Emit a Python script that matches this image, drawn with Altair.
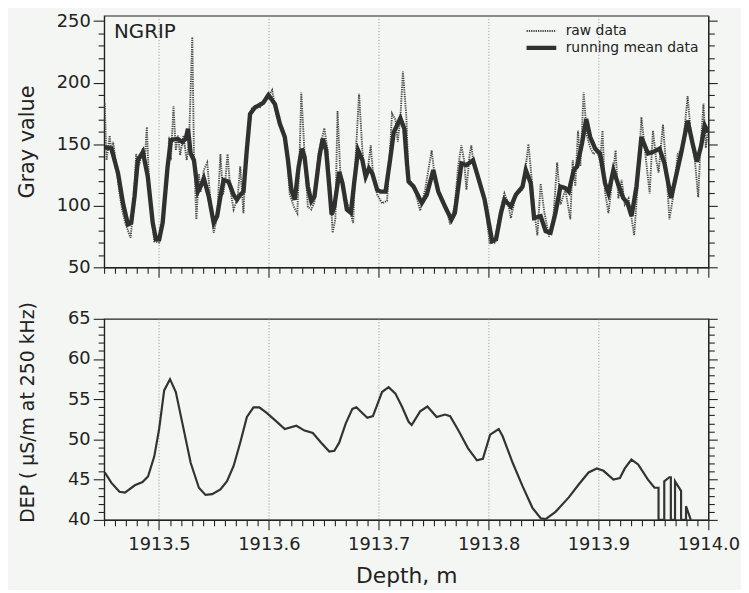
import altair as alt
import pandas as pd

FONT = "DejaVu Sans"

# ---------------- data ----------------
site_label = ["NGRIP"]
series_names = ["raw data", "running mean data"]

mean_depth = [1913.4506, 1913.4567, 1913.4627, 1913.4672, 1913.4717, 1913.4747, 1913.4777, 1913.4807,
              1913.4853, 1913.4898, 1913.4943, 1913.4972, 1913.5002, 1913.5033, 1913.5078, 1913.5108,
              1913.5168, 1913.5213, 1913.5243, 1913.5264, 1913.5288, 1913.5318, 1913.5354, 1913.5378,
              1913.5408, 1913.5453, 1913.5498, 1913.5529, 1913.5559, 1913.5588, 1913.5633, 1913.5679,
              1913.5709, 1913.5739, 1913.5769, 1913.5799, 1913.5829, 1913.5874, 1913.5919, 1913.5950,
              1913.5996, 1913.6055, 1913.6100, 1913.6145, 1913.6174, 1913.6205, 1913.6235, 1913.6271,
              1913.6301, 1913.6325, 1913.6355, 1913.6386, 1913.6415, 1913.6460, 1913.6490, 1913.6521,
              1913.6550, 1913.6571, 1913.6596, 1913.6641, 1913.6670, 1913.6710, 1913.6746, 1913.6776,
              1913.6812, 1913.6851, 1913.6881, 1913.6911, 1913.6941, 1913.6986, 1913.7017, 1913.7062,
              1913.7107, 1913.7137, 1913.7197, 1913.7233, 1913.7257, 1913.7272, 1913.7317, 1913.7392,
              1913.7437, 1913.7497, 1913.7542, 1913.7603, 1913.7662, 1913.7693, 1913.7753, 1913.7798,
              1913.7858, 1913.7903, 1913.7964, 1913.8032, 1913.8068, 1913.8113, 1913.8144, 1913.8203,
              1913.8248, 1913.8309, 1913.8339, 1913.8384, 1913.8414, 1913.8474, 1913.8519, 1913.8564,
              1913.8609, 1913.8654, 1913.8699, 1913.8730, 1913.8775, 1913.8805, 1913.8850, 1913.8889,
              1913.8925, 1913.8970, 1913.9015, 1913.9060, 1913.9091, 1913.9136, 1913.9181, 1913.9226,
              1913.9265, 1913.9301, 1913.9346, 1913.9391, 1913.9451, 1913.9496, 1913.9556, 1913.9601,
              1913.9661, 1913.9698, 1913.9752, 1913.9812, 1913.9857, 1913.9896, 1913.9932, 1913.9968,
              1913.9998]
mean_gray = [147.7, 146.4, 126.4, 102.2, 84.8, 86.1, 107.5, 137.0,
             143.7, 123.6, 86.1, 72.8, 72.8, 86.1, 131.7, 153.2,
             154.5, 151.7, 154.5, 162.6, 142.4, 137.0, 111.5, 115.6,
             122.2, 107.5, 86.1, 91.5, 107.5, 120.9, 119.6, 108.9,
             104.9, 108.9, 111.5, 145.1, 174.6, 179.9, 182.1, 183.8,
             190.0, 182.6, 166.6, 155.8, 137.0, 112.9, 104.9, 131.7,
             146.4, 139.7, 115.6, 103.6, 107.5, 139.7, 154.5, 145.1,
             115.6, 92.8, 99.4, 127.6, 118.3, 96.9, 94.2, 118.3,
             145.1, 137.0, 123.6, 130.3, 126.4, 112.9, 111.5, 111.5,
             139.7, 159.8, 171.1, 162.6, 134.4, 119.6, 115.6, 102.2,
             108.9, 129.0, 111.5, 99.4, 88.7, 94.2, 134.4, 133.0,
             137.0, 123.6, 104.9, 71.3, 72.8, 94.2, 104.9, 99.4,
             108.9, 115.6, 129.0, 118.3, 90.1, 91.5, 79.4, 78.1,
             94.2, 115.6, 114.3, 111.5, 129.0, 131.7, 150.5, 170.5,
             155.8, 146.4, 142.4, 118.3, 110.2, 129.0, 117.0, 106.2,
             102.2, 91.5, 115.6, 155.8, 142.4, 143.7, 146.4, 134.4,
             106.2, 120.9, 142.4, 169.2, 150.5, 135.8, 147.7, 165.1,
             159.8]

raw_depth = [1913.4506, 1913.4522, 1913.4551, 1913.4567, 1913.4582, 1913.4612, 1913.4639, 1913.4666,
             1913.4693, 1913.4741, 1913.4765, 1913.4792, 1913.4819, 1913.4853, 1913.4873, 1913.4889,
             1913.4909, 1913.4927, 1913.4957, 1913.5002, 1913.5045, 1913.5078, 1913.5092, 1913.5108,
             1913.5132, 1913.5153, 1913.5174, 1913.5192, 1913.5222, 1913.5252, 1913.5273, 1913.5303,
             1913.5318, 1913.5340, 1913.5363, 1913.5378, 1913.5408, 1913.5439, 1913.5462, 1913.5498,
             1913.5529, 1913.5559, 1913.5583, 1913.5604, 1913.5624, 1913.5649, 1913.5679, 1913.5715,
             1913.5739, 1913.5769, 1913.5784, 1913.5814, 1913.5844, 1913.5874, 1913.5919, 1913.5964,
             1913.6030, 1913.6070, 1913.6129, 1913.6160, 1913.6190, 1913.6229, 1913.6259, 1913.6280,
             1913.6295, 1913.6325, 1913.6355, 1913.6386, 1913.6415, 1913.6451, 1913.6505, 1913.6535,
             1913.6560, 1913.6580, 1913.6605, 1913.6625, 1913.6650, 1913.6686, 1913.6731, 1913.6767,
             1913.6791, 1913.6821, 1913.6851, 1913.6881, 1913.6902, 1913.6927, 1913.6950, 1913.6986,
             1913.7031, 1913.7076, 1913.7107, 1913.7121, 1913.7152, 1913.7173, 1913.7197, 1913.7220,
             1913.7251, 1913.7272, 1913.7317, 1913.7377, 1913.7422, 1913.7482, 1913.7513, 1913.7558,
             1913.7617, 1913.7648, 1913.7693, 1913.7723, 1913.7752, 1913.7777, 1913.7798, 1913.7828,
             1913.7843, 1913.7867, 1913.7903, 1913.7964, 1913.8009, 1913.8054, 1913.8099, 1913.8144,
             1913.8174, 1913.8203, 1913.8248, 1913.8309, 1913.8339, 1913.8363, 1913.8393, 1913.8414,
             1913.8444, 1913.8474, 1913.8505, 1913.8550, 1913.8586, 1913.8624, 1913.8654, 1913.8699,
             1913.8744, 1913.8766, 1913.8789, 1913.8814, 1913.8835, 1913.8865, 1913.8895, 1913.8925,
             1913.8955, 1913.8985, 1913.9015, 1913.9037, 1913.9060, 1913.9091, 1913.9120, 1913.9156,
             1913.9181, 1913.9211, 1913.9240, 1913.9274, 1913.9325, 1913.9361, 1913.9391, 1913.9421,
             1913.9466, 1913.9496, 1913.9526, 1913.9547, 1913.9587, 1913.9616, 1913.9646, 1913.9677,
             1913.9722, 1913.9767, 1913.9812, 1913.9842, 1913.9878, 1913.9908, 1913.9926, 1913.9956,
             1913.9977, 1913.9998]
raw_gray = [183, 137, 157, 142, 152, 132, 111, 96,
            86, 74, 96, 142, 133, 147, 140, 164,
            119, 96, 71, 70, 96, 124, 156, 137,
            181, 145, 157, 141, 157, 137, 152, 237,
            142, 89, 126, 111, 129, 135, 111, 78,
            91, 142, 109, 121, 142, 113, 97, 106,
            132, 94, 127, 157, 179, 181, 180, 185,
            194, 173, 162, 147, 109, 99, 94, 142,
            192, 142, 99, 97, 103, 142, 163, 145,
            113, 78, 89, 177, 127, 109, 98, 86,
            142, 191, 145, 121, 130, 149, 124, 109,
            102, 104, 152, 175, 170, 152, 171, 209,
            173, 121, 117, 96, 113, 145, 121, 109,
            99, 85, 101, 132, 149, 137, 113, 142,
            149, 132, 124, 105, 70, 70, 93, 110,
            103, 90, 109, 113, 132, 150, 121, 96,
            76, 118, 96, 75, 86, 135, 101, 113,
            89, 137, 116, 161, 132, 192, 157, 147,
            142, 144, 137, 161, 111, 94, 116, 145,
            106, 121, 101, 106, 76, 121, 172, 147,
            110, 161, 137, 127, 166, 132, 89, 106,
            142, 147, 189, 157, 137, 107, 142, 183,
            147, 162]

dep_depth = [1913.4506, 1913.4567, 1913.4640, 1913.4690, 1913.4780, 1913.4850, 1913.4900, 1913.4957,
             1913.5000, 1913.5047, 1913.5100, 1913.5153, 1913.5213, 1913.5288, 1913.5363, 1913.5423,
             1913.5484, 1913.5559, 1913.5619, 1913.5679, 1913.5739, 1913.5800, 1913.5860, 1913.5913,
             1913.5980, 1913.6055, 1913.6145, 1913.6250, 1913.6325, 1913.6400, 1913.6476, 1913.6550,
             1913.6596, 1913.6640, 1913.6700, 1913.6760, 1913.6797, 1913.6850, 1913.6896, 1913.6947,
             1913.6986, 1913.7030, 1913.7090, 1913.7152, 1913.7211, 1913.7272, 1913.7300, 1913.7377,
             1913.7443, 1913.7527, 1913.7603, 1913.7650, 1913.7722, 1913.7813, 1913.7894, 1913.7948,
             1913.8014, 1913.8092, 1913.8128, 1913.8219, 1913.8309, 1913.8399, 1913.8474, 1913.8519,
             1913.8609, 1913.8730, 1913.8820, 1913.8910, 1913.8985, 1913.9046, 1913.9136, 1913.9195,
             1913.9240, 1913.9300, 1913.9361, 1913.9451, 1913.9510, 1913.9547, 1913.9547, 1913.9599,
             1913.9599, 1913.9645, 1913.9659, 1913.9659, 1913.9697, 1913.9697, 1913.9720, 1913.9752,
             1913.9752, 1913.9797, 1913.9797, 1913.9836, 1913.9840]
dep_value = [45.9, 44.6, 43.5, 43.4, 44.3, 44.7, 45.4, 47.9,
             51.2, 56.1, 57.5, 55.9, 52.0, 47.1, 44.0, 43.1,
             43.2, 43.8, 44.8, 46.7, 49.6, 52.8, 54.0, 54.0,
             53.3, 52.4, 51.3, 51.7, 51.1, 50.8, 49.6, 48.5,
             48.6, 49.6, 52.0, 53.8, 54.0, 53.3, 52.7, 52.9,
             54.3, 55.9, 56.5, 55.7, 54.1, 52.2, 51.8, 53.5,
             54.1, 52.8, 53.1, 52.9, 51.2, 48.9, 47.4, 47.6,
             50.6, 51.3, 50.4, 47.1, 44.2, 41.5, 40.2, 40.1,
             41.0, 42.8, 44.4, 45.9, 46.4, 46.1, 45.0, 45.2,
             46.4, 47.5, 46.9, 45.0, 44.0, 44.0, 40.0, 40.0,
             44.8, 45.3, 45.3, 40.0, 40.0, 44.8, 44.3, 43.6,
             40.0, 40.0, 41.7, 40.2, 40.0]

# axis tick positions (major + minor)
x_ticks = [round(1913.45 + 0.01 * i, 2) for i in range(56)]
gray_ticks = list(range(50, 251, 10))
dep_ticks = list(range(40, 66))

# ---------------- frames ----------------
raw_df = pd.DataFrame({"Depth": raw_depth, "Gray": raw_gray, "series": series_names[0]})
mean_df = pd.DataFrame({"Depth": mean_depth, "Gray": mean_gray, "series": series_names[1]})
dep_df = pd.DataFrame({"Depth": dep_depth, "DEP": dep_value, "idx": list(range(len(dep_depth)))})
label_df = pd.DataFrame({"label": site_label})

MAJOR_X = "abs(datum.value*10 - round(datum.value*10)) < 0.001"
MAJOR_G = "datum.value % 50 == 0"
MAJOR_D = "datum.value % 5 == 0"
INK = "#222222"

x_scale = alt.Scale(domain=[1913.45, 1914.0], nice=False, zero=False)
g_scale = alt.Scale(domain=[50, 254.4], nice=False, zero=False)
d_scale = alt.Scale(domain=[40, 65], nice=False, zero=False)


def x_axis(show_labels):
    kw = dict(
        values=x_ticks,
        tickSize={"condition": {"test": MAJOR_X, "value": 10}, "value": 6},
        grid=True,
        gridOpacity={"condition": {"test": MAJOR_X, "value": 1}, "value": 0},
        gridDash=[1, 2],
        gridColor="#8a8a8a",
        gridWidth=0.9,
    )
    if show_labels:
        kw.update(labelExpr=MAJOR_X + " ? format(datum.value, '.1f') : ''",
                  labelPadding=6, title="Depth, m", titleFontSize=22, titlePadding=12,
                  labelFlush=False, labelOverlap=False)
    else:
        kw.update(labels=False, title=None)
    return alt.Axis(**kw)


def y_left(values, major, title, title_size, title_y=None):
    kw = dict(values=values, labelExpr=major + " ? datum.label : ''",
              tickSize={"condition": {"test": major, "value": 11}, "value": 6},
              labelPadding=3, grid=False, title=title, titleFontSize=title_size,
              titleX=-77, titleBaseline="middle", labelOverlap=False)
    if title_y is not None:
        kw["titleY"] = title_y
    return alt.Axis(**kw)


def y_right(values, major):
    return alt.Axis(orient="right", values=values, labels=False, title=None, grid=False,
                    tickSize={"condition": {"test": major, "value": 9}, "value": 6})


legend_kw = dict(title=None, orient="none", legendX=424, legendY=7, symbolType="stroke",
                 symbolSize=900, labelFontSize=14, labelFont=FONT, labelColor=INK,
                 clipHeight=17, rowPadding=0, labelOffset=7)

color_enc = alt.Color("series:N", scale=alt.Scale(domain=series_names, range=["#4a4a4a", "#303030"]),
                      legend=alt.Legend(**legend_kw))
dash_enc = alt.StrokeDash("series:N", scale=alt.Scale(domain=series_names, range=[[1.3, 1.0], [1, 0]]),
                          legend=alt.Legend(**legend_kw))
width_enc = alt.StrokeWidth("series:N", scale=alt.Scale(domain=series_names, range=[1.9, 4.4]),
                            legend=alt.Legend(**legend_kw))

raw_line = alt.Chart(raw_df).mark_line(clip=True).encode(
    x=alt.X("Depth:Q", scale=x_scale, axis=x_axis(False)),
    y=alt.Y("Gray:Q", scale=g_scale, axis=y_left(gray_ticks, MAJOR_G, "Gray value", 21)),
    color=color_enc, strokeDash=dash_enc, strokeWidth=width_enc,
)
mean_line = alt.Chart(mean_df).mark_line(clip=True).encode(
    x=alt.X("Depth:Q", scale=x_scale, axis=x_axis(False)),
    y=alt.Y("Gray:Q", scale=g_scale, axis=None),
    color=color_enc, strokeDash=dash_enc, strokeWidth=width_enc,
)

top_right = alt.Chart(mean_df).mark_point(opacity=0).encode(
    y=alt.Y("Gray:Q", scale=g_scale, axis=y_right(gray_ticks, MAJOR_G)),
)

site = alt.Chart(label_df).mark_text(align="left", baseline="alphabetic", font=FONT,
                                     fontSize=20, color=INK).encode(
    x=alt.value(10), y=alt.value(23), text="label:N")

top = alt.layer(raw_line, mean_line, top_right, site).resolve_axis(y="independent").properties(
    width=610, height=254)

dep_line = alt.Chart(dep_df).mark_line(clip=True, color="#333333", strokeWidth=2.2).encode(
    x=alt.X("Depth:Q", scale=x_scale, axis=x_axis(True)),
    y=alt.Y("DEP:Q", scale=d_scale,
            axis=y_left(dep_ticks, MAJOR_D, "DEP ( \u03bcS/m at 250 kHz)", 19, 94)),
    order=alt.Order("idx:Q"),
)
dep_right = alt.Chart(dep_df).mark_point(opacity=0).encode(
    y=alt.Y("DEP:Q", scale=d_scale, axis=y_right(dep_ticks, MAJOR_D)),
)
bottom = alt.layer(dep_line, dep_right).resolve_axis(y="independent").properties(width=610, height=203)

chart = alt.vconcat(top, bottom, spacing=22).properties(
    padding={"left": 8, "top": 0, "right": 0, "bottom": 0},
    background="#f3f6f2",
).configure_view(
    stroke=INK, strokeWidth=1.2
).configure_axis(
    domainColor=INK, tickColor=INK, labelColor=INK, titleColor=INK,
    labelFont=FONT, titleFont=FONT, labelFontSize=18, titleFontWeight="normal",
    domainWidth=1.2, tickWidth=1.1,
)

chart.save("out.html", embed_options={"renderer": "svg", "actions": False})
